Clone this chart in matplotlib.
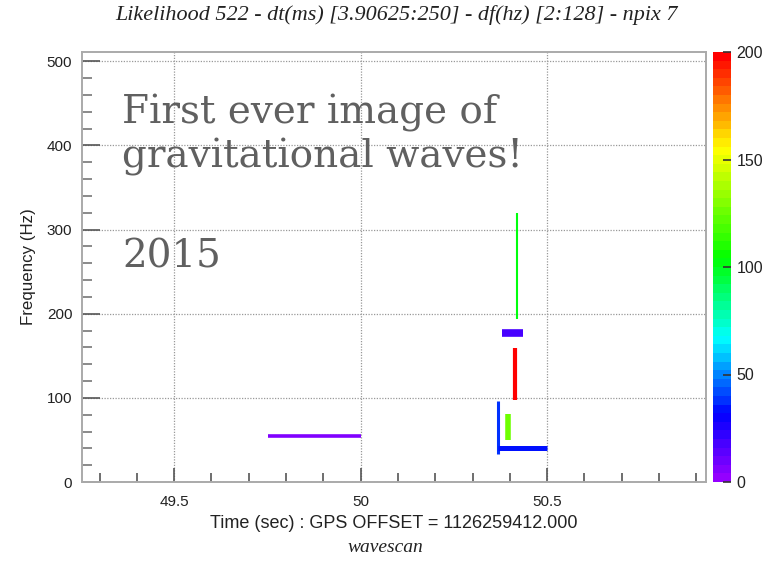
import numpy as np
import matplotlib
matplotlib.use("Agg")
import matplotlib.pyplot as plt
from matplotlib.collections import LineCollection
from matplotlib.colors import LinearSegmentedColormap, ListedColormap, Normalize
from matplotlib.cm import ScalarMappable
from matplotlib.ticker import MultipleLocator

# ---- data ----
# each pixel cluster: start time, end time, low freq, high freq, likelihood value
seg_t0 = [49.752, 50.369, 50.369, 50.395, 50.414, 50.380, 50.420]
seg_t1 = [50.000, 50.369, 50.500, 50.395, 50.414, 50.436, 50.420]
seg_f0 = [54.6, 33.0, 40.7, 50.0, 97.0, 177.0, 194.0]
seg_f1 = [54.6, 96.0, 40.7, 81.0, 159.0, 177.0, 320.0]
seg_val = [7, 38, 33, 125, 197, 18, 100]
seg_lw = [2.6, 2.2, 3.6, 4.0, 3.0, 5.5, 1.5]

x_ticks = [49.5, 50.0, 50.5]
x_ticklabels = ["49.5", "50", "50.5"]
y_ticks = [0, 100, 200, 300, 400, 500]
cbar_ticks = [0, 50, 100, 150, 200]

title = "Likelihood 522 - dt(ms) [3.90625:250] - df(hz) [2:128] - npix 7"
xlabel = "Time (sec) : GPS OFFSET = 1126259412.000"
ylabel = "Frequency (Hz)"
footer = "wavescan"
note_lines = ["First ever image of", "gravitational waves!", "2015"]

# ---- colormap (ROOT-like rainbow, 50 levels) ----
base = LinearSegmentedColormap.from_list(
    "rootrainbow",
    [(0.0, (0.58, 0.0, 1.0)),
     (0.15, (0.0, 0.0, 1.0)),
     (0.33, (0.0, 1.0, 1.0)),
     (0.52, (0.0, 1.0, 0.0)),
     (0.78, (1.0, 1.0, 0.0)),
     (0.89, (1.0, 0.5, 0.0)),
     (1.0, (1.0, 0.0, 0.0))])
cmap = ListedColormap(base(np.linspace(0, 1, 50)))
norm = Normalize(0, 200)

W, H = 772, 561
fig = plt.figure(figsize=(W / 100, H / 100), dpi=100)
ax = fig.add_axes([82 / W, 1 - 482 / H, (706 - 82) / W, (482 - 52) / H])
cax = fig.add_axes([713 / W, 1 - 482 / H, (731 - 713) / W, (482 - 52) / H])

segs = []
for a, b, c, d in zip(seg_t0, seg_t1, seg_f0, seg_f1):
    segs.append([(a, c), (b, d)])
lc = LineCollection(segs, colors=[cmap(norm(v)) for v in seg_val],
                    linewidths=seg_lw, capstyle="butt", zorder=3)
ax.add_collection(lc)

ax.set_xlim(49.253, 50.926)
ax.set_ylim(0, 511)
ax.set_xticks(x_ticks)
ax.set_xticklabels(x_ticklabels)
ax.set_yticks(y_ticks)
ax.xaxis.set_minor_locator(MultipleLocator(0.1))
ax.yaxis.set_minor_locator(MultipleLocator(20))
ax.tick_params(which="major", direction="in", color="#555555", width=1.2,
               labelsize=11, labelcolor="#222222")
ax.tick_params(axis="x", which="major", length=10, pad=9)
ax.tick_params(axis="y", which="major", length=13, pad=7)
ax.tick_params(axis="x", which="minor", direction="in", length=6.5, color="#555555", width=1.2)
ax.tick_params(axis="y", which="minor", direction="in", length=7.5, color="#777777", width=1.2)
ax.tick_params(top=False, right=False, which="both")
for lab in ax.get_xticklabels() + ax.get_yticklabels():
    lab.set_family("Liberation Sans")
for s in ax.spines.values():
    s.set_color("#aaaaaa")
    s.set_linewidth(1.4)
ax.grid(True, which="major", color="#999999", linestyle=(0, (1, 1.2)), linewidth=0.9)
ax.set_axisbelow(True)

ax.set_xlabel(xlabel, family="Liberation Sans", fontsize=13, color="#222222", labelpad=5)
ax.set_ylabel(ylabel, family="Liberation Sans", fontsize=12.2, color="#222222", labelpad=8)

fig.text(397 / W, 1 - 15 / H, title, family="Liberation Serif", style="italic",
         fontsize=15.9, color="#222222", ha="center", va="center")
fig.text(385 / W, 1 - 548 / H, footer, family="Liberation Serif", style="italic",
         fontsize=14, color="#222222", ha="center", va="center")

# annotation text
note_x = 0.064
for line, ybase in zip(note_lines, [123, 167, 268]):
    ax.text(note_x, 1 - (ybase - 52) / 430, line, transform=ax.transAxes,
            family="DejaVu Serif", fontsize=28, color="#606060", va="baseline")

# colorbar
cb = fig.colorbar(ScalarMappable(norm=norm, cmap=cmap), cax=cax)
cb.outline.set_visible(False)
cb.set_ticks(cbar_ticks)
cax.tick_params(direction="in", length=6, color="#333333", width=1.2,
                labelsize=11.5, labelcolor="#222222", pad=4)
for lab in cax.get_yticklabels():
    lab.set_family("Liberation Sans")

fig.savefig("out.png", dpi=100)
